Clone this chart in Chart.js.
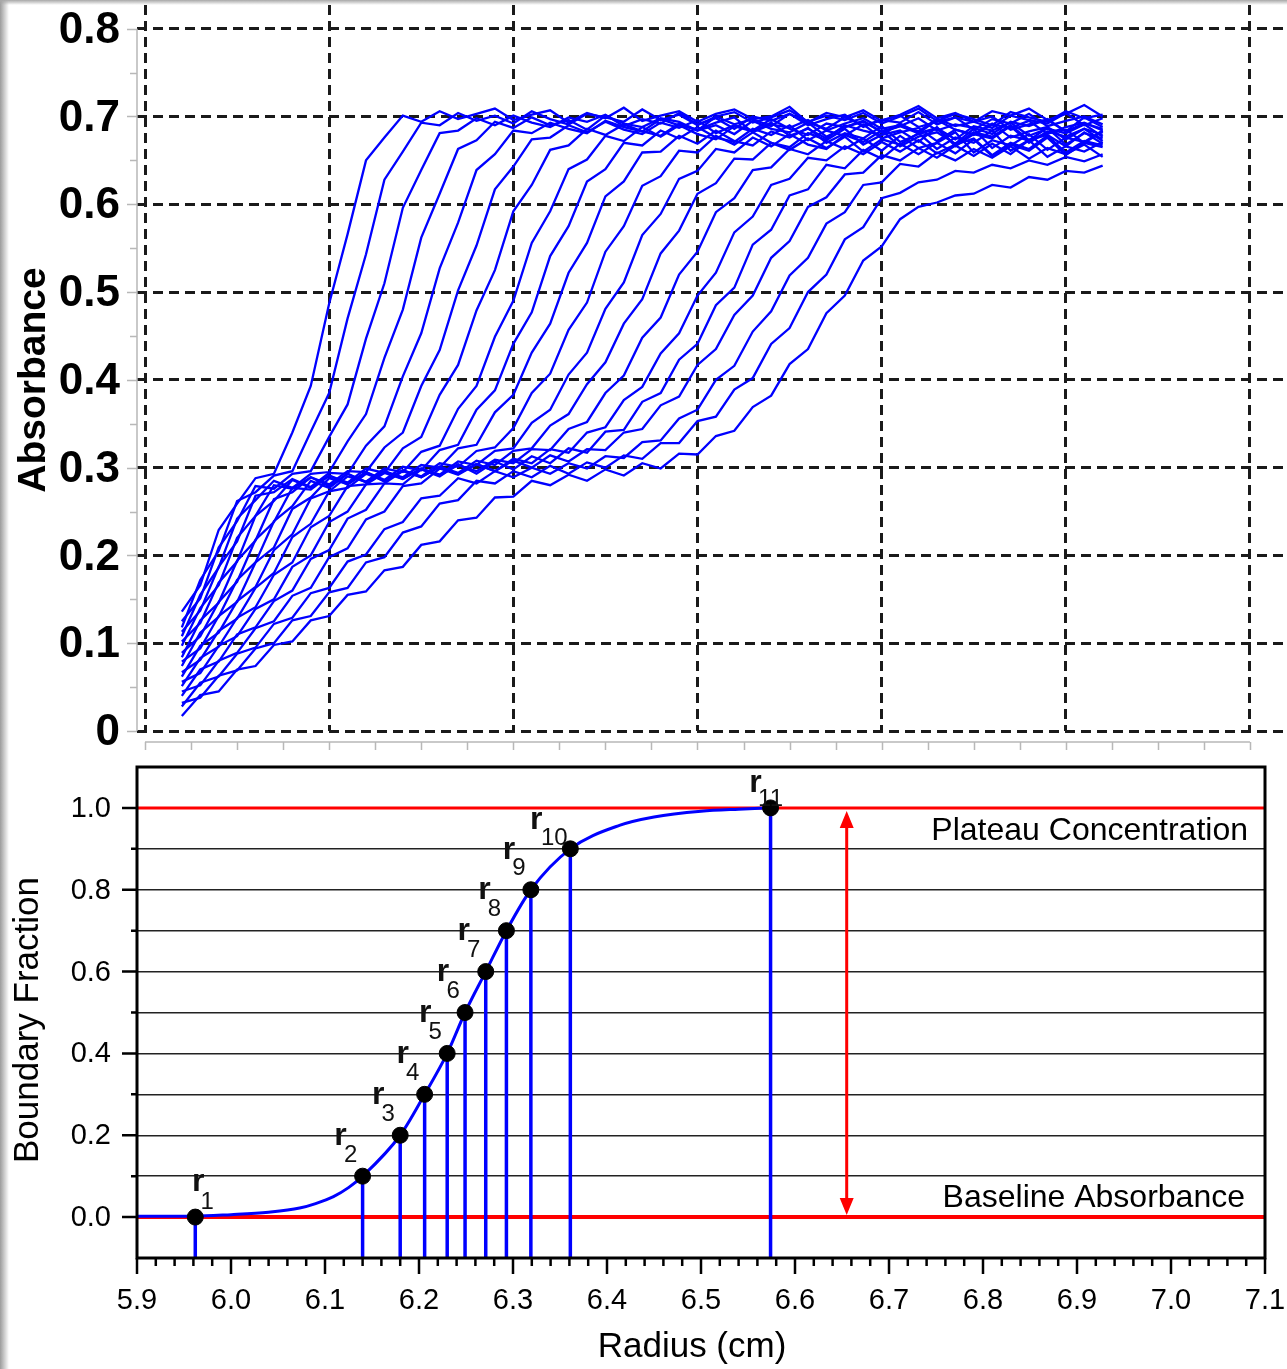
<!DOCTYPE html>
<html>
<head>
  <meta charset="utf-8">
  <title>Sedimentation velocity scans and boundary fractions</title>
  <script src="https://cdn.jsdelivr.net/npm/chart.js"></script>
  <style>
    body {
      margin: 0;
      padding: 0;
      background: #fff;
    }
    #wrap {
      position: relative;
      width: 1287px;
      height: 1369px;
    }
    canvas {
      display: block;
    }
    #edgeLeft {
      position: absolute; left: 0; top: 0; width: 9px; height: 1369px;
      background: linear-gradient(to right, #9c9c9c, #d8d8d8 60%, rgba(255,255,255,0));
    }
    #edgeTop {
      position: absolute; left: 0; top: 0; width: 1287px; height: 5px;
      background: linear-gradient(to bottom, #a8a8a8, rgba(255,255,255,0));
    }
  </style>
</head>
<body>
<div id="wrap">
  <canvas id="scanChart" width="1287" height="755"></canvas>
  <canvas id="fractionChart" width="1287" height="614"></canvas>
  <div id="edgeLeft"></div>
  <div id="edgeTop"></div>
</div>

<script>
  // --- top panel: absorbance scans (values in milli-absorbance units) ---
  const radius = [5.94, 5.96, 5.98, 6.00, 6.02, 6.04, 6.06, 6.08, 6.10, 6.12,
                  6.14, 6.16, 6.18, 6.20, 6.22, 6.24, 6.26, 6.28, 6.30, 6.32,
                  6.34, 6.36, 6.38, 6.40, 6.42, 6.44, 6.46, 6.48, 6.50, 6.52,
                  6.54, 6.56, 6.58, 6.60, 6.62, 6.64, 6.66, 6.68, 6.70, 6.72,
                  6.74, 6.76, 6.78, 6.80, 6.82, 6.84, 6.86, 6.88, 6.90, 6.92, 6.94];

  const scan01 = [136, 166, 229, 259, 288, 293, 340, 393, 487, 566, 650, 676, 701, 694, 706, 697, 703, 709, 696, 702, 707, 693, 704, 698, 710, 695, 701, 706, 694, 703, 708, 697, 700, 711, 693, 704, 699, 707, 695, 702, 712, 698, 704, 694, 706, 701, 709, 696, 703, 713, 700];
  const scan02 = [118, 172, 205, 262, 272, 291, 296, 341, 385, 470, 543, 628, 660, 693, 690, 704, 695, 701, 692, 706, 697, 691, 703, 699, 694, 708, 696, 702, 690, 700, 705, 693, 699, 707, 694, 701, 696, 704, 692, 700, 709, 695, 703, 697, 690, 705, 699, 694, 706, 698, 702];
  const scan03 = [125, 151, 209, 239, 279, 276, 293, 296, 335, 372, 447, 510, 596, 639, 681, 684, 698, 690, 701, 693, 688, 699, 694, 702, 689, 697, 692, 704, 691, 698, 686, 700, 695, 703, 690, 697, 702, 688, 696, 693, 705, 691, 699, 694, 687, 701, 696, 692, 704, 690, 698];
  const scan04 = [108, 155, 186, 242, 263, 285, 277, 293, 295, 330, 361, 425, 480, 562, 612, 663, 673, 694, 687, 699, 690, 696, 685, 701, 692, 688, 698, 694, 684, 700, 691, 697, 689, 703, 693, 686, 699, 690, 696, 701, 688, 694, 699, 685, 697, 692, 703, 689, 695, 700, 691];
  const scan05 = [113, 137, 187, 216, 268, 272, 287, 278, 294, 293, 325, 347, 404, 453, 527, 579, 639, 657, 684, 681, 693, 686, 681, 695, 688, 683, 697, 690, 685, 693, 699, 682, 691, 687, 696, 684, 692, 698, 686, 690, 683, 697, 689, 694, 700, 685, 691, 696, 683, 699, 688];
  const scan06 = [97, 140, 166, 220, 245, 280, 276, 289, 281, 296, 295, 323, 340, 393, 434, 502, 553, 617, 643, 674, 676, 690, 682, 694, 685, 680, 693, 687, 696, 681, 690, 684, 697, 686, 679, 692, 688, 695, 682, 689, 698, 684, 691, 687, 680, 694, 689, 697, 683, 692, 686];
  const scan07 = [102, 123, 169, 193, 245, 262, 286, 277, 291, 283, 299, 294, 322, 335, 383, 417, 479, 525, 592, 622, 662, 667, 686, 679, 691, 683, 678, 692, 684, 690, 680, 695, 686, 682, 693, 677, 688, 694, 683, 689, 681, 696, 685, 679, 691, 687, 695, 680, 688, 693, 684];
  const scan08 = [84, 126, 146, 194, 217, 264, 272, 289, 279, 293, 284, 299, 295, 318, 325, 367, 393, 449, 490, 556, 592, 640, 651, 678, 672, 688, 677, 690, 680, 674, 689, 683, 693, 678, 686, 675, 690, 684, 679, 692, 681, 687, 674, 689, 684, 693, 678, 686, 681, 691, 677];
  const scan09 = [89, 108, 147, 170, 218, 238, 277, 275, 291, 281, 295, 286, 301, 297, 320, 326, 366, 388, 441, 477, 541, 575, 626, 640, 670, 667, 684, 675, 688, 676, 671, 686, 679, 690, 673, 684, 678, 691, 675, 682, 687, 672, 685, 680, 692, 676, 683, 688, 674, 686, 679];
  const scan10 = [74, 112, 130, 172, 192, 239, 256, 285, 277, 293, 283, 296, 289, 303, 300, 322, 326, 363, 383, 431, 464, 522, 556, 609, 626, 659, 660, 678, 669, 684, 672, 667, 683, 676, 687, 670, 681, 675, 689, 671, 680, 686, 668, 682, 677, 690, 673, 681, 685, 670, 683];
  const scan11 = [79, 94, 131, 147, 192, 209, 253, 266, 288, 281, 295, 284, 297, 290, 305, 301, 319, 323, 345, 385, 407, 457, 488, 546, 575, 621, 632, 661, 659, 678, 668, 682, 670, 665, 681, 673, 686, 668, 679, 684, 671, 688, 666, 680, 675, 689, 670, 683, 677, 686, 672];
  const scan12 = [62, 97, 112, 148, 164, 206, 224, 265, 273, 290, 284, 296, 287, 299, 292, 307, 303, 319, 322, 351, 366, 406, 431, 481, 511, 565, 589, 629, 638, 663, 659, 676, 666, 680, 668, 663, 679, 671, 684, 666, 677, 682, 669, 686, 664, 678, 673, 687, 668, 681, 675];
  const scan13 = [67, 81, 114, 128, 163, 180, 221, 236, 273, 277, 293, 285, 297, 289, 301, 294, 308, 303, 319, 322, 348, 361, 395, 420, 464, 492, 544, 570, 612, 624, 652, 651, 670, 662, 675, 664, 677, 660, 674, 668, 681, 663, 676, 670, 684, 661, 673, 679, 666, 682, 669];
  const scan14 = [51, 83, 96, 129, 141, 178, 192, 232, 245, 279, 281, 294, 287, 299, 291, 303, 296, 309, 305, 321, 320, 344, 352, 385, 405, 448, 471, 520, 546, 591, 607, 639, 642, 663, 657, 672, 663, 675, 661, 678, 664, 670, 682, 659, 673, 667, 680, 662, 676, 671, 684];
  const scan15 = [56, 66, 97, 108, 139, 150, 187, 200, 238, 250, 281, 282, 296, 289, 301, 293, 304, 296, 310, 305, 321, 317, 340, 346, 377, 392, 430, 453, 496, 522, 568, 586, 622, 629, 653, 650, 666, 657, 671, 660, 673, 658, 668, 675, 656, 670, 663, 678, 659, 672, 667];
  const scan16 = [40, 70, 79, 110, 118, 148, 160, 196, 206, 242, 252, 282, 281, 298, 290, 304, 293, 307, 298, 313, 305, 322, 317, 341, 343, 375, 385, 423, 441, 485, 505, 554, 571, 610, 617, 645, 641, 662, 652, 669, 657, 670, 658, 674, 655, 668, 661, 676, 656, 670, 665];
  const scan17 = [45, 52, 80, 89, 117, 125, 154, 163, 198, 208, 241, 250, 279, 282, 299, 292, 304, 296, 308, 300, 314, 307, 321, 320, 340, 344, 371, 381, 417, 435, 474, 496, 539, 558, 597, 608, 634, 636, 656, 650, 664, 653, 667, 655, 669, 657, 673, 654, 666, 660, 671];
  const scan18 = [28, 55, 62, 88, 95, 122, 129, 157, 163, 193, 201, 230, 238, 265, 268, 288, 282, 296, 289, 300, 293, 305, 299, 313, 311, 329, 331, 356, 366, 400, 416, 455, 478, 519, 539, 578, 591, 622, 625, 646, 643, 659, 650, 663, 653, 666, 652, 664, 657, 668, 654];
  const scan19 = [32, 38, 63, 69, 94, 100, 126, 131, 158, 163, 192, 198, 226, 233, 259, 263, 285, 282, 296, 289, 302, 293, 306, 300, 314, 310, 328, 328, 353, 358, 389, 402, 441, 459, 500, 520, 560, 574, 607, 613, 625, 628, 638, 636, 645, 641, 650, 645, 654, 649, 657];
  const scan20 = [17, 41, 45, 70, 74, 98, 102, 126, 131, 155, 159, 183, 187, 212, 216, 240, 243, 266, 267, 285, 280, 292, 285, 298, 291, 305, 299, 316, 315, 336, 342, 369, 382, 418, 435, 476, 496, 536, 552, 583, 597, 602, 610, 612, 622, 619, 631, 628, 638, 636, 644];

  const scans = [scan01, scan02, scan03, scan04, scan05, scan06, scan07, scan08, scan09, scan10,
                 scan11, scan12, scan13, scan14, scan15, scan16, scan17, scan18, scan19, scan20];

  const absorbanceTicks = [0, 0.1, 0.2, 0.3, 0.4, 0.5, 0.6, 0.7, 0.8];
  const absorbanceLabels = ['0', '0.1', '0.2', '0.3', '0.4', '0.5', '0.6', '0.7', '0.8'];
  const scanGridR = [5.9, 6.1, 6.3, 6.5, 6.7, 6.9, 7.1];

  // --- bottom panel: boundary fraction ---
  const boundaryR = [5.90, 5.96, 6.00, 6.04, 6.073, 6.09, 6.109, 6.125, 6.14, 6.18, 6.206,
                     6.23, 6.249, 6.271, 6.293, 6.319, 6.361, 6.414, 6.45, 6.50, 6.54, 6.574];
  const boundaryF = [0.002, 0.002, 0.006, 0.012, 0.022, 0.033, 0.05, 0.072, 0.1, 0.2, 0.3,
                     0.4, 0.5, 0.6, 0.7, 0.8, 0.9, 0.958, 0.978, 0.992, 0.997, 1.0];

  const pointR = [5.962, 6.140, 6.180, 6.206, 6.230, 6.249, 6.271, 6.293, 6.319, 6.361, 6.574];
  const pointF = [0.0, 0.1, 0.2, 0.3, 0.4, 0.5, 0.6, 0.7, 0.8, 0.9, 1.0];
  const pointNames = ['1', '2', '3', '4', '5', '6', '7', '8', '9', '10', '11'];

  const plateauLevel = 1.0;
  const baselineLevel = 0.0;
  const arrowR = 6.655;

  const radiusTicks = [5.9, 6.0, 6.1, 6.2, 6.3, 6.4, 6.5, 6.6, 6.7, 6.8, 6.9, 7.0, 7.1];
  const fractionTicks = [-0.1, 0.0, 0.1, 0.2, 0.3, 0.4, 0.5, 0.6, 0.7, 0.8, 0.9, 1.0, 1.1];
  const fractionLabels = [0.0, 0.2, 0.4, 0.6, 0.8, 1.0];

  const FONT = '"Liberation Sans", Arial, sans-serif';
  const BLUE = '#0000ff';
  const RED = '#ff0000';

  // ---------- top chart ----------
  const topDecor = {
    id: 'topDecor',
    afterDraw(chart) {
      const { ctx, chartArea: a, scales: { x, y } } = chart;
      ctx.save();
      ctx.strokeStyle = '#b8b8b8';
      ctx.lineWidth = 1.5;
      ctx.beginPath();
      // gray left axis, ticks every 0.05
      ctx.moveTo(a.left, y.getPixelForValue(0.8));
      ctx.lineTo(a.left, y.getPixelForValue(0));
      for (let i = 0; i <= 16; i++) {
        const py = Math.round(y.getPixelForValue(i * 0.05)) + 0.5;
        const len = i % 2 === 0 ? 10 : 7;
        ctx.moveTo(a.left - len, py);
        ctx.lineTo(a.left, py);
      }
      // gray bottom axis, offset below the plot
      const axY = a.bottom + 11;
      ctx.moveTo(x.getPixelForValue(5.9), axY);
      ctx.lineTo(x.getPixelForValue(7.1), axY);
      for (let i = 0; i <= 24; i++) {
        const px = Math.round(x.getPixelForValue(5.9 + i * 0.05)) + 0.5;
        ctx.moveTo(px, axY);
        ctx.lineTo(px, axY + 8);
      }
      ctx.stroke();

      // y tick labels
      ctx.fillStyle = '#000';
      ctx.font = 'bold 44px ' + FONT;
      ctx.textAlign = 'right';
      ctx.textBaseline = 'middle';
      absorbanceTicks.forEach((v, i) => {
        ctx.fillText(absorbanceLabels[i], a.left - 17, y.getPixelForValue(v) + 2);
      });

      ctx.font = 'bold 39px ' + FONT;
      ctx.textAlign = 'center';
      ctx.translate(34, 380);
      ctx.rotate(-Math.PI / 2);
      ctx.fillText('Absorbance', 0, 0);
      ctx.restore();
    }
  };

  new Chart(document.getElementById('scanChart'), {
    type: 'line',
    data: {
      datasets: scans.map(s => ({
        data: s.map((v, k) => ({ x: radius[k], y: v / 1000 })),
        borderColor: BLUE,
        borderWidth: 2.3,
        pointRadius: 0,
        tension: 0,
        fill: false
      }))
    },
    options: {
      responsive: false,
      animation: false,
      devicePixelRatio: 1,
      events: [],
      layout: { autoPadding: false, padding: { top: 5, right: 0, bottom: 0, left: 0 } },
      plugins: { legend: { display: false }, tooltip: { enabled: false } },
      scales: {
        x: {
          type: 'linear',
          min: 5.8913,
          max: 7.1402,
          afterBuildTicks: s => { s.ticks = scanGridR.map(v => ({ value: v })); },
          afterFit: s => { s.height = 24; },
          grid: { color: '#1a1a1a', lineWidth: 3, drawTicks: false },
          border: { display: false, dash: [10, 6] },
          ticks: { display: false }
        },
        y: {
          min: 0,
          max: 0.827,
          afterBuildTicks: s => { s.ticks = absorbanceTicks.map(v => ({ value: v })); },
          afterFit: s => { s.width = 137; },
          grid: { color: '#1a1a1a', lineWidth: 3, drawTicks: false },
          border: { display: false, dash: [10, 6] },
          ticks: { display: false }
        }
      }
    },
    plugins: [topDecor]
  });

  // ---------- bottom chart ----------
  function labelOffsets(i) {
    if (i === 0) return [3, -35, 12, -15];
    if (i === 9) return [-34, -29, -16, -10];
    if (i === 10) return [-15, -25, 0, -9];
    return [-22, -40, -12, -21];
  }

  const bottomDecor = {
    id: 'bottomDecor',
    afterDatasetsDraw(chart) {
      const { ctx, chartArea: a, scales: { x, y } } = chart;
      ctx.save();

      // red double arrow between baseline and plateau
      const ax = x.getPixelForValue(arrowR);
      const yTop = y.getPixelForValue(plateauLevel) + 3;
      const yBot = y.getPixelForValue(baselineLevel) - 2;
      ctx.strokeStyle = RED;
      ctx.fillStyle = RED;
      ctx.lineWidth = 3;
      ctx.beginPath();
      ctx.moveTo(ax, yTop + 12);
      ctx.lineTo(ax, yBot - 12);
      ctx.stroke();
      ctx.beginPath();
      ctx.moveTo(ax, yTop);
      ctx.lineTo(ax - 7, yTop + 17);
      ctx.lineTo(ax + 7, yTop + 17);
      ctx.closePath();
      ctx.moveTo(ax, yBot);
      ctx.lineTo(ax - 7, yBot - 17);
      ctx.lineTo(ax + 7, yBot - 17);
      ctx.closePath();
      ctx.fill();

      // frame
      ctx.strokeStyle = '#000';
      ctx.lineWidth = 3;
      ctx.strokeRect(a.left, a.top, a.right - a.left, a.bottom - a.top);

      // x ticks: major every 0.1, minor every 0.02
      ctx.beginPath();
      for (let i = 0; i <= 60; i++) {
        const px = x.getPixelForValue(5.9 + i * 0.02);
        const len = i % 5 === 0 ? 16 : 8;
        ctx.moveTo(px, a.bottom);
        ctx.lineTo(px, a.bottom + len);
      }
      // y ticks: major every 0.2, minor between
      for (let i = 0; i <= 10; i++) {
        const py = y.getPixelForValue(i * 0.1);
        const len = i % 2 === 0 ? 15 : 6;
        ctx.moveTo(a.left - len, py);
        ctx.lineTo(a.left, py);
      }
      ctx.lineWidth = 2.5;
      ctx.stroke();

      // tick labels
      ctx.fillStyle = '#000';
      ctx.font = '29px ' + FONT;
      ctx.textBaseline = 'middle';
      ctx.textAlign = 'center';
      radiusTicks.forEach(v => ctx.fillText(v.toFixed(1), x.getPixelForValue(v), a.bottom + 43));
      ctx.textAlign = 'right';
      fractionLabels.forEach(v => ctx.fillText(v.toFixed(1), a.left - 26, y.getPixelForValue(v) + 1));

      // point names r1..r11
      ctx.fillStyle = '#111';
      ctx.textAlign = 'center';
      pointR.forEach((r, i) => {
        const px = x.getPixelForValue(r);
        const py = y.getPixelForValue(pointF[i]);
        const o = labelOffsets(i);
        ctx.font = 'bold 32px ' + FONT;
        ctx.fillText('r', px + o[0], py + o[1]);
        ctx.font = '24px ' + FONT;
        ctx.fillText(pointNames[i], px + o[2], py + o[3]);
      });

      // level captions
      ctx.fillStyle = '#000';
      ctx.font = '32px ' + FONT;
      ctx.textAlign = 'right';
      ctx.fillText('Plateau Concentration', a.right - 17, y.getPixelForValue(plateauLevel) + 23);
      ctx.fillText('Baseline Absorbance', a.right - 20, y.getPixelForValue(baselineLevel) - 19);

      // axis titles
      ctx.font = '35px ' + FONT;
      ctx.textAlign = 'center';
      ctx.fillText('Radius (cm)', 692, 592);
      ctx.translate(28, 265);
      ctx.rotate(-Math.PI / 2);
      ctx.fillText('Boundary Fraction', 0, 0);
      ctx.restore();
    }
  };

  const dropLines = [];
  pointR.forEach((r, i) => {
    dropLines.push({ x: r, y: pointF[i] }, { x: r, y: -0.1 }, { x: r, y: null });
  });

  new Chart(document.getElementById('fractionChart'), {
    type: 'line',
    data: {
      datasets: [
        {
          label: 'points',
          data: pointR.map((r, i) => ({ x: r, y: pointF[i] })),
          showLine: false,
          pointRadius: 8,
          pointBackgroundColor: '#000',
          pointBorderColor: '#000',
          order: 0
        },
        {
          label: 'boundary',
          data: boundaryR.map((r, i) => ({ x: r, y: boundaryF[i] })),
          borderColor: BLUE,
          borderWidth: 3,
          pointRadius: 0,
          cubicInterpolationMode: 'monotone',
          order: 1
        },
        {
          label: 'drops',
          data: dropLines,
          borderColor: BLUE,
          borderWidth: 3.5,
          pointRadius: 0,
          spanGaps: false,
          order: 2
        },
        {
          label: 'plateau',
          data: [{ x: 5.9, y: plateauLevel }, { x: 7.1, y: plateauLevel }],
          borderColor: RED,
          borderWidth: 3,
          pointRadius: 0,
          order: 3
        },
        {
          label: 'baseline',
          data: [{ x: 5.9, y: baselineLevel }, { x: 7.1, y: baselineLevel }],
          borderColor: RED,
          borderWidth: 4,
          pointRadius: 0,
          order: 4
        }
      ]
    },
    options: {
      responsive: false,
      animation: false,
      devicePixelRatio: 1,
      events: [],
      layout: { autoPadding: false, padding: { top: 12, right: 22, bottom: 0, left: 0 } },
      plugins: { legend: { display: false }, tooltip: { enabled: false } },
      scales: {
        x: {
          type: 'linear',
          min: 5.9,
          max: 7.1,
          afterBuildTicks: s => { s.ticks = radiusTicks.map(v => ({ value: v })); },
          afterFit: s => { s.height = 111; },
          grid: { display: false, drawTicks: false },
          border: { display: false },
          ticks: { display: false }
        },
        y: {
          min: -0.1,
          max: 1.1,
          afterBuildTicks: s => { s.ticks = fractionTicks.map(v => ({ value: v })); },
          afterFit: s => { s.width = 137; },
          grid: {
            color: c => (c.tick && c.tick.value > -0.05 && c.tick.value < 0.95) ? '#222' : 'rgba(0,0,0,0)',
            lineWidth: 1.5,
            drawTicks: false
          },
          border: { display: false },
          ticks: { display: false }
        }
      }
    },
    plugins: [bottomDecor]
  });
</script>
</body>
</html>
